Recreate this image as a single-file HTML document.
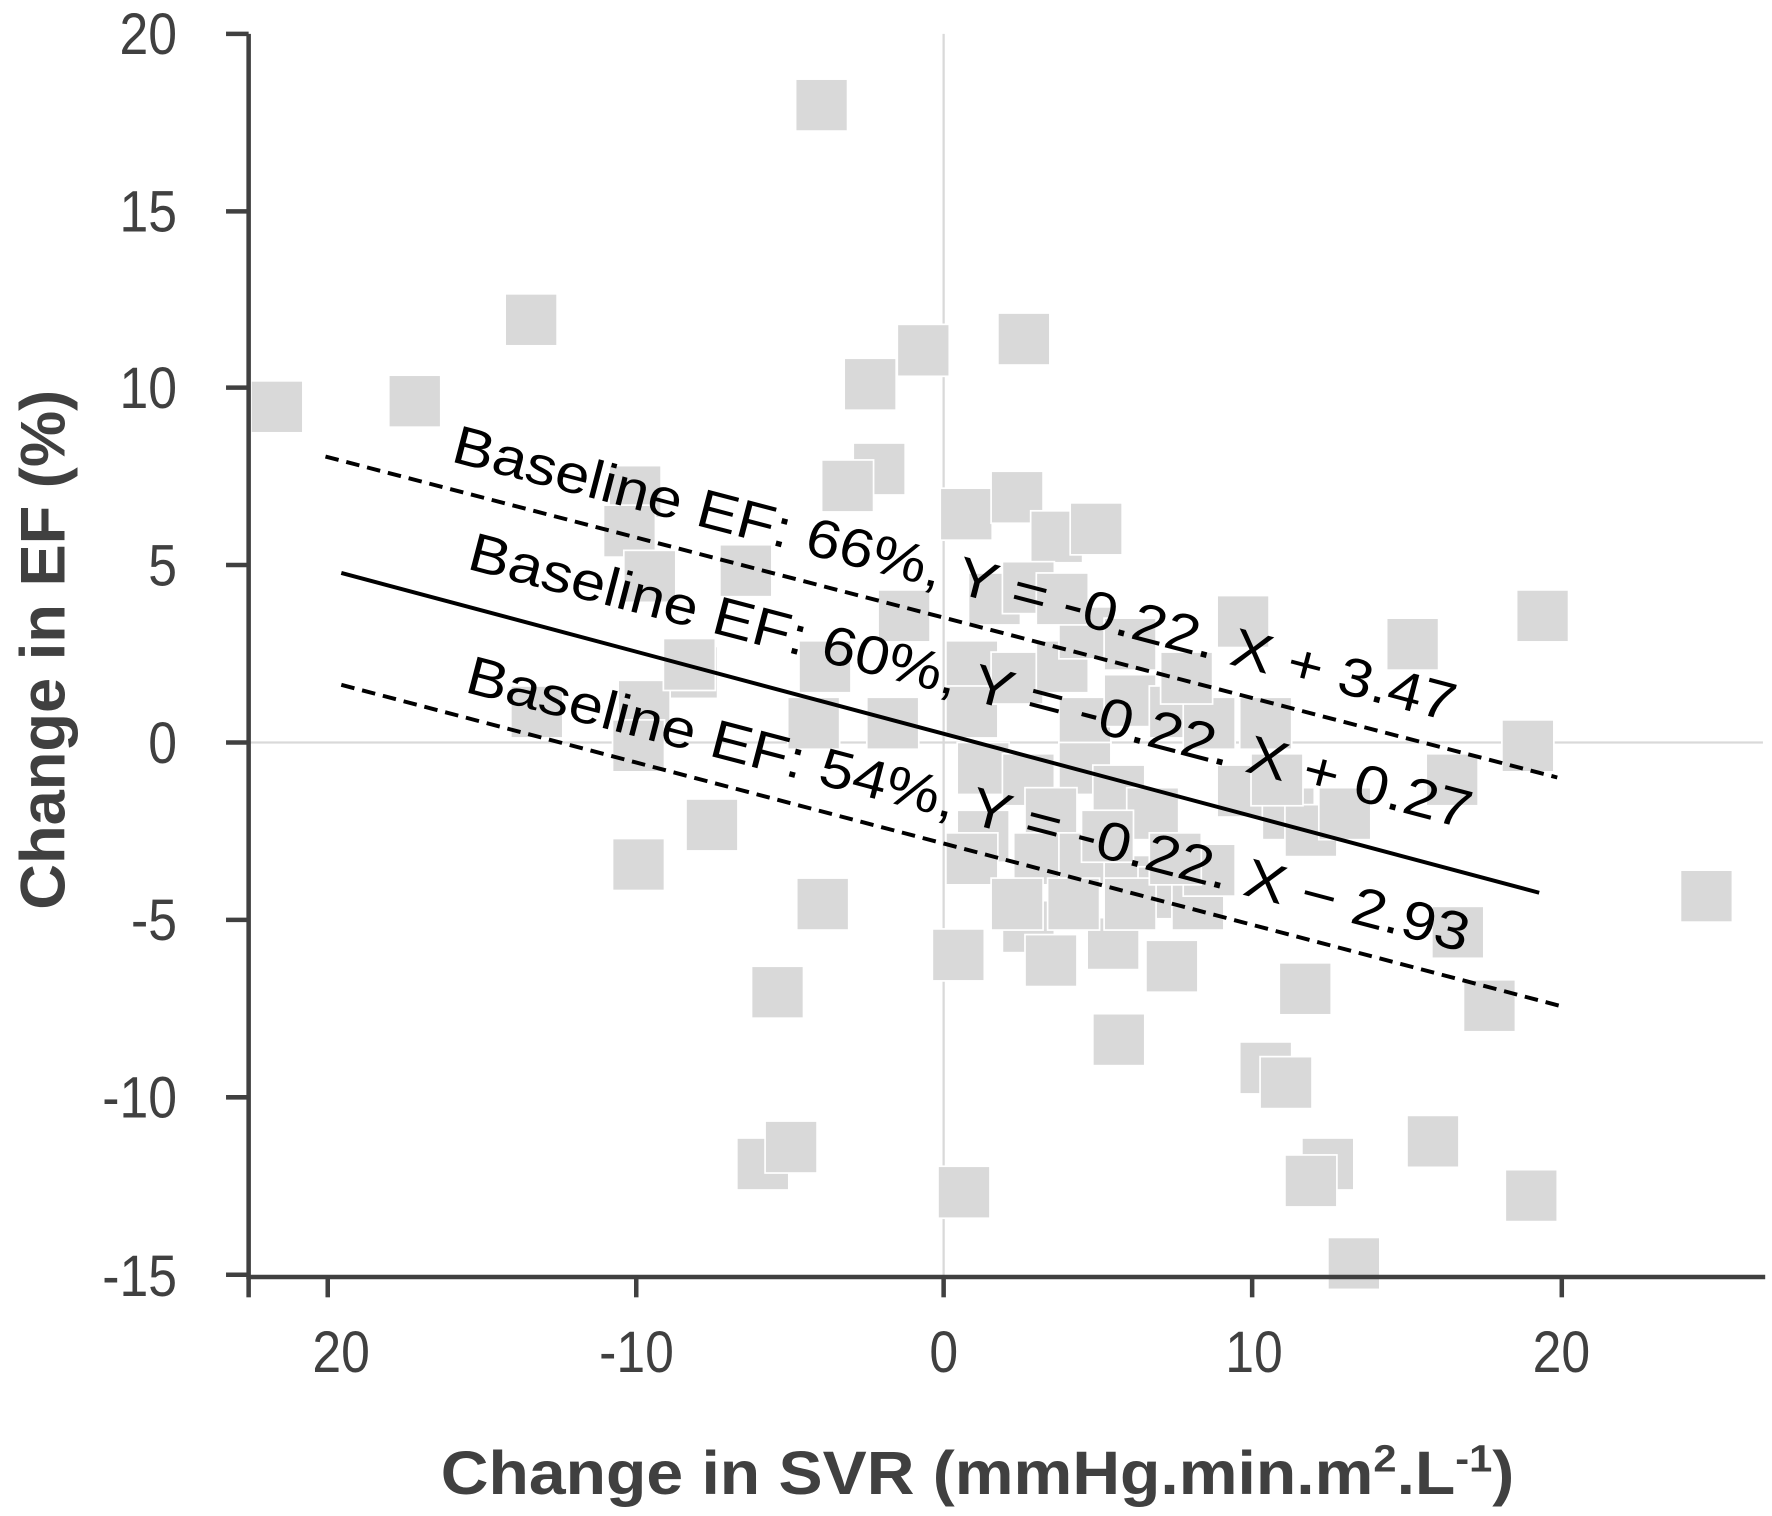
<!DOCTYPE html>
<html><head><meta charset="utf-8"><style>html,body{margin:0;padding:0;background:#fff}svg{display:block}</style></head>
<body>
<svg width="1772" height="1516" viewBox="0 0 1568 1341.5" xmlns="http://www.w3.org/2000/svg" font-family="Liberation Sans, sans-serif">
<rect width="1568" height="1341.5" fill="#fff"/>
<line x1="835" y1="30" x2="835" y2="1130" stroke="#d9d9d9" stroke-width="2"/>
<line x1="220" y1="657" x2="1560" y2="657" stroke="#d9d9d9" stroke-width="2"/>
<g fill="#d9d9d9" stroke="#fff" stroke-width="1.5">
<rect x="222" y="337" width="46" height="46"/><rect x="344" y="332" width="46" height="46"/><rect x="447" y="260" width="46" height="46"/><rect x="704" y="70" width="46" height="46"/><rect x="794" y="287" width="46" height="46"/><rect x="883" y="277" width="46" height="46"/><rect x="747" y="317" width="46" height="46"/><rect x="755" y="392" width="46" height="46"/><rect x="727" y="407" width="46" height="46"/><rect x="539" y="412" width="46" height="46"/><rect x="534" y="447" width="46" height="46"/><rect x="552" y="487" width="46" height="46"/><rect x="637" y="482" width="46" height="46"/><rect x="832" y="432" width="46" height="46"/><rect x="877" y="417" width="46" height="46"/><rect x="912" y="452" width="46" height="46"/><rect x="947" y="445" width="46" height="46"/><rect x="1077" y="527" width="46" height="46"/><rect x="1227" y="547" width="46" height="46"/><rect x="1342" y="522" width="46" height="46"/><rect x="1329" y="637" width="46" height="46"/><rect x="1262" y="667" width="46" height="46"/><rect x="589" y="572" width="46" height="46"/><rect x="547" y="602" width="46" height="46"/><rect x="542" y="637" width="46" height="46"/><rect x="452" y="607" width="46" height="46"/><rect x="587" y="565" width="46" height="46"/><rect x="607" y="707" width="46" height="46"/><rect x="542" y="742" width="46" height="46"/><rect x="705" y="777" width="46" height="46"/><rect x="665" y="855" width="46" height="46"/><rect x="652" y="1007" width="46" height="46"/><rect x="677" y="992" width="46" height="46"/><rect x="830" y="1032" width="46" height="46"/><rect x="825" y="822" width="46" height="46"/><rect x="887" y="797" width="46" height="46"/><rect x="907" y="827" width="46" height="46"/><rect x="962" y="812" width="46" height="46"/><rect x="1014" y="832" width="46" height="46"/><rect x="967" y="897" width="46" height="46"/><rect x="1097" y="922" width="46" height="46"/><rect x="1115" y="935" width="46" height="46"/><rect x="1132" y="852" width="46" height="46"/><rect x="1152" y="1007" width="46" height="46"/><rect x="1137" y="1022" width="46" height="46"/><rect x="1175" y="1095" width="46" height="46"/><rect x="1245" y="987" width="46" height="46"/><rect x="1295" y="867" width="46" height="46"/><rect x="1332" y="1035" width="46" height="46"/><rect x="1487" y="770" width="46" height="46"/><rect x="1267" y="802" width="46" height="46"/><rect x="777" y="522" width="46" height="46"/><rect x="837" y="567" width="46" height="46"/><rect x="837" y="607" width="46" height="46"/><rect x="877" y="577" width="46" height="46"/><rect x="917" y="567" width="46" height="46"/><rect x="937" y="617" width="46" height="46"/><rect x="977" y="597" width="46" height="46"/><rect x="1017" y="607" width="46" height="46"/><rect x="1047" y="617" width="46" height="46"/><rect x="1097" y="617" width="46" height="46"/><rect x="1077" y="677" width="46" height="46"/><rect x="1117" y="697" width="46" height="46"/><rect x="1137" y="712" width="46" height="46"/><rect x="1167" y="697" width="46" height="46"/><rect x="847" y="657" width="46" height="46"/><rect x="887" y="667" width="46" height="46"/><rect x="937" y="657" width="46" height="46"/><rect x="967" y="677" width="46" height="46"/><rect x="997" y="697" width="46" height="46"/><rect x="907" y="697" width="46" height="46"/><rect x="847" y="717" width="46" height="46"/><rect x="837" y="737" width="46" height="46"/><rect x="897" y="737" width="46" height="46"/><rect x="937" y="737" width="46" height="46"/><rect x="977" y="757" width="46" height="46"/><rect x="1007" y="767" width="46" height="46"/><rect x="1037" y="777" width="46" height="46"/><rect x="1047" y="747" width="46" height="46"/><rect x="877" y="777" width="46" height="46"/><rect x="927" y="777" width="46" height="46"/><rect x="977" y="777" width="46" height="46"/><rect x="767" y="617" width="46" height="46"/><rect x="697" y="617" width="46" height="46"/><rect x="707" y="567" width="46" height="46"/><rect x="957" y="717" width="46" height="46"/><rect x="1017" y="737" width="46" height="46"/><rect x="1107" y="667" width="46" height="46"/><rect x="937" y="537" width="46" height="46"/><rect x="977" y="547" width="46" height="46"/><rect x="1027" y="577" width="46" height="46"/><rect x="857" y="507" width="46" height="46"/><rect x="887" y="497" width="46" height="46"/><rect x="917" y="507" width="46" height="46"/>
</g>
<g stroke="#404040" stroke-width="4" fill="none">
<line x1="220" y1="30" x2="220" y2="1132"/>
<line x1="218" y1="1130" x2="1562" y2="1130"/>
<line x1="200" y1="30" x2="220" y2="30"/><line x1="200" y1="187" x2="220" y2="187"/><line x1="200" y1="343" x2="220" y2="343"/><line x1="200" y1="500" x2="220" y2="500"/><line x1="200" y1="657" x2="220" y2="657"/><line x1="200" y1="814" x2="220" y2="814"/><line x1="200" y1="971" x2="220" y2="971"/><line x1="200" y1="1128" x2="220" y2="1128"/>
<line x1="220" y1="1130" x2="220" y2="1148"/><line x1="290" y1="1130" x2="290" y2="1148"/><line x1="563" y1="1130" x2="563" y2="1148"/><line x1="835" y1="1130" x2="835" y2="1148"/><line x1="1108" y1="1130" x2="1108" y2="1148"/><line x1="1382" y1="1130" x2="1382" y2="1148"/>
</g>
<g fill="#404040" font-size="52" text-anchor="end" transform="scale(0.88,1)">
<text x="178" y="48">20</text><text x="178" y="205">15</text><text x="178" y="361">10</text><text x="178" y="518">5</text><text x="178" y="675">0</text><text x="178" y="832">-5</text><text x="178" y="989">-10</text><text x="178" y="1147">-15</text>
</g>
<g fill="#404040" font-size="52" text-anchor="middle" transform="scale(0.88,1)">
<text x="343" y="1214">20</text><text x="640" y="1214">-10</text><text x="949" y="1214">0</text><text x="1261" y="1214">10</text><text x="1570" y="1214">20</text>
</g>
<text x="865" y="1322" font-size="54" font-weight="bold" fill="#404040" text-anchor="middle" textLength="950" lengthAdjust="spacingAndGlyphs">Change in SVR (mmHg.min.m<tspan font-size="34" dy="-20">2</tspan><tspan dy="20">.L</tspan><tspan font-size="34" dy="-20">-1</tspan><tspan dy="20">)</tspan></text>
<text transform="translate(57,575) rotate(-90)" font-size="56" font-weight="bold" fill="#404040" text-anchor="middle" textLength="460" lengthAdjust="spacingAndGlyphs">Change in EF (%)</text>
<g stroke="#000" stroke-width="3.5" fill="none">
<line x1="288" y1="404" x2="1378" y2="688" stroke-dasharray="12,7"/>
<line x1="302" y1="507" x2="1362" y2="790"/>
<line x1="302" y1="606" x2="1380" y2="890" stroke-dasharray="12,7"/>
</g>
<g fill="#000" font-size="48">
<text transform="translate(398,408) rotate(14.6)" textLength="915" lengthAdjust="spacingAndGlyphs">Baseline EF: 66%, Y = -0.22. X + 3.47</text>
<text transform="translate(412,503) rotate(14.6)" textLength="915" lengthAdjust="spacingAndGlyphs">Baseline EF: 60%, Y = -0.22. X + 0.27</text>
<text transform="translate(410,612) rotate(14.6)" textLength="915" lengthAdjust="spacingAndGlyphs">Baseline EF: 54%, Y = -0.22. X − 2.93</text>
</g>
</svg>
</body></html>
